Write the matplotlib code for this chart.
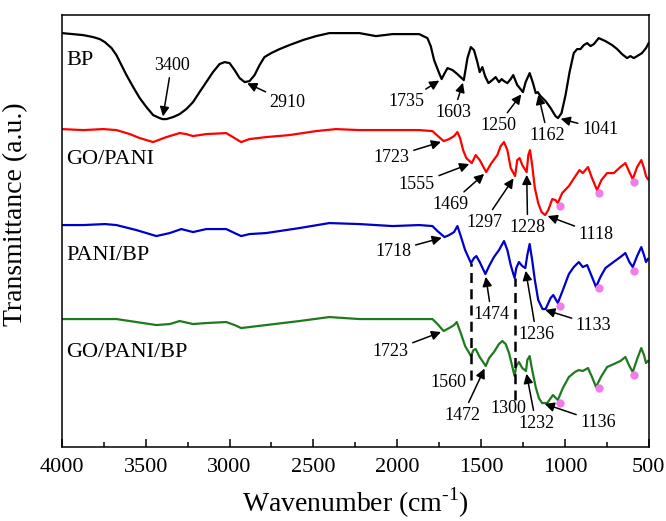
import numpy as np
import matplotlib
matplotlib.use("Agg")
import matplotlib.pyplot as plt
from matplotlib.ticker import MultipleLocator

plt.rcParams["font.family"] = "Liberation Serif"
plt.rcParams["mathtext.fontset"] = "custom"
plt.rcParams["mathtext.rm"] = "Liberation Serif"

# FTIR spectra (wavenumber in cm-1, transmittance in arbitrary units, stacked)
bp_wn = [4000, 3873, 3813, 3774, 3744, 3704, 3675, 3645, 3615, 3575, 3536, 3496,
         3456, 3417, 3400, 3377, 3337, 3298, 3258, 3218, 3179, 3139, 3099, 3060,
         3030, 3000, 2970, 2940, 2910, 2881, 2851, 2821, 2792, 2752, 2702, 2643,
         2563, 2484, 2405, 2226, 2127, 2028, 1869, 1820, 1800, 1780, 1750, 1735,
         1720, 1700, 1670, 1641, 1603, 1581, 1561, 1542, 1522, 1508, 1492, 1476,
         1456, 1433, 1413, 1393, 1377, 1363, 1343, 1323, 1308, 1284, 1250, 1234,
         1210, 1190, 1174, 1162, 1145, 1115, 1085, 1056, 1041, 1020, 996, 972,
         947, 927, 907, 887, 867, 847, 827, 798, 758, 718, 688, 659, 629, 609,
         589, 569, 540, 516, 500]
bp_t = [414, 412, 410, 408, 405, 399, 392, 382, 372, 360, 349, 340,
        332, 329, 328, 328, 330, 333, 338, 345, 355, 365, 375, 383,
        385, 384, 377, 369, 365, 366, 372, 382, 390, 394, 398, 402,
        407, 411, 414, 414, 411, 413, 413, 409, 401, 387, 374, 368,
        373, 379, 377, 373, 367, 389, 400, 397, 385, 375, 380, 371,
        364, 367, 370, 365, 368, 366, 364, 368, 372, 362, 355, 365,
        374, 364, 354, 355, 351, 346, 339, 331, 329, 334, 352, 375,
        394, 398, 398, 402, 404, 401, 403, 409, 406, 402, 398, 393, 389, 391,
        389, 391, 394, 399, 404]

gopani_wn = [4000, 3873, 3754, 3675, 3595, 3536, 3456, 3377, 3298, 3258, 3218, 3139,
             3020, 2970, 2931, 2881, 2782, 2643, 2484, 2365, 2226, 2028, 1869, 1790,
             1764, 1723, 1690, 1661, 1641, 1625, 1607, 1588, 1555, 1532, 1508, 1469,
             1442, 1403, 1383, 1363, 1343, 1323, 1297, 1284, 1270, 1254, 1228, 1218,
             1208, 1195, 1179, 1159, 1139, 1118, 1099, 1075, 1056, 1042, 1016, 976,
             937, 913, 893, 862, 838, 808, 782, 748, 708, 669, 639, 615,
             595, 569, 544, 528, 516, 505]
gopani_t = [318, 317, 318, 317, 313, 309, 305, 310, 314, 313, 311, 313,
            314, 309, 305, 308, 310, 312, 316, 318, 317, 317, 317, 316,
            312, 306, 308, 311, 315, 309, 297, 289, 284, 292, 287, 275,
            283, 292, 301, 305, 297, 279, 271, 287, 289, 282, 275, 292,
            297, 282, 259, 244, 235, 232, 237, 248, 247, 244, 254, 261,
            271, 277, 274, 280, 269, 257, 267, 274, 274, 280, 284, 275,
            268, 280, 287, 279, 271, 268]

panibp_wn = [4000, 3873, 3744, 3675, 3556, 3437, 3357, 3288, 3218, 3139, 3020, 2970,
             2931, 2881, 2782, 2583, 2405, 2226, 2028, 1869, 1790, 1760, 1718, 1690,
             1661, 1641, 1621, 1595, 1560, 1542, 1528, 1508, 1474, 1452, 1423, 1393,
             1363, 1343, 1323, 1300, 1290, 1274, 1254, 1236, 1224, 1210, 1195, 1179,
             1159, 1133, 1115, 1085, 1069, 1042, 1012, 976, 947, 917, 893, 867,
             838, 814, 788, 758, 718, 669, 639, 615, 595, 569, 544, 528,
             516, 505]
panibp_t = [222, 222, 223, 222, 217, 211, 214, 218, 215, 218, 218, 214,
            211, 213, 214, 219, 224, 223, 221, 222, 221, 216, 210, 212,
            215, 221, 211, 197, 184, 189, 191, 185, 173, 181, 190, 197,
            206, 197, 182, 169, 179, 185, 181, 179, 192, 203, 187, 167,
            147, 138, 138, 149, 152, 144, 157, 173, 180, 185, 180, 182,
            170, 160, 170, 179, 184, 190, 194, 185, 180, 191, 200, 192,
            185, 188]

gopanibp_wn = [4000, 3873, 3675, 3556, 3437, 3357, 3298, 3218, 3139, 3020, 2970, 2931,
               2881, 2782, 2583, 2405, 2226, 2028, 1869, 1790, 1760, 1723, 1690, 1661,
               1645, 1621, 1595, 1560, 1545, 1532, 1508, 1472, 1452, 1423, 1393, 1373,
               1353, 1333, 1300, 1290, 1274, 1254, 1232, 1224, 1210, 1195, 1174, 1155,
               1136, 1105, 1071, 1042, 1012, 976, 940, 917, 893, 862, 838, 814,
               785, 748, 708, 669, 639, 615, 595, 569, 544, 528, 516, 505]
gopanibp_t = [128, 128, 128, 125, 122, 123, 126, 123, 124, 125, 122, 119,
              120, 122, 126, 130, 128, 128, 128, 128, 123, 116, 119, 122,
              125, 114, 101, 91, 97, 98, 90, 81, 89, 95, 103, 106,
              103, 94, 71, 81, 85, 79, 76, 87, 91, 77, 60, 49,
              44, 44, 52, 47, 59, 70, 75, 77, 76, 79, 70, 60,
              70, 80, 83, 86, 90, 81, 75, 88, 99, 92, 84, 86]

names = ["BP", "GO/PANI", "PANI/BP", "GO/PANI/BP"]
colors = ["black", "#ff0000", "#0000cc", "#1f7a1f"]
label_heights = [387, 288, 192, 95]

# labelled bands per spectrum, with text offsets (pixels) from the arrow tip
peaks = [
    [(3400, (9, 54)), (2910, (43, -20)), (1735, (-35, -22)), (1603, (-10, -32)),
     (1250, (-25, -33)), (1162, (10, -43)), (1041, (42, -11))],
    [(1723, (-52, -16)), (1555, (-55, -21)), (1469, (-36, -32)), (1297, (-31, -46)),
     (1228, (1, -55)), (1118, (51, -19))],
    [(1718, (-51, -14)), (1474, (6, -40)), (1236, (11, -66)), (1133, (51, -16))],
    [(1723, (-53, -20)), (1472, (-23, -49)), (1232, (10, -52)), (1136, (56, -19))],
]
marked_bands = [1030, 795, 585]
shared_bands = [1560, 1300]

spectra = [(bp_wn, bp_t), (gopani_wn, gopani_t), (panibp_wn, panibp_t),
           (gopanibp_wn, gopanibp_t)]

fig = plt.figure(figsize=(6.66, 5.21), dpi=100)
ax = fig.add_axes([0.093, 0.142, 0.881, 0.829])

for (wn, t), c in zip(spectra, colors):
    ax.plot(wn, t, color=c, lw=1.6)

for name, h in zip(names, label_heights):
    ax.text(3975, h, name, fontsize=16, ha="left", va="center")


def level(i, w):
    wn, t = spectra[i]
    return np.interp(w, wn[::-1], t[::-1])


for i, plist in enumerate(peaks):
    for w, (dx, dy) in plist:
        ax.annotate(str(w), xy=(w, level(i, w)), xytext=(dx, dy),
                    textcoords="offset pixels", ha="center", va="center",
                    fontsize=13,
                    arrowprops=dict(arrowstyle="-|>", color="black", lw=1.1,
                                    mutation_scale=14, shrinkA=1, shrinkB=2))

# pink markers under the low-wavenumber bands of the PANI-containing films
for i in (1, 2, 3):
    ys = [level(i, w) - 8 for w in marked_bands]
    ax.plot(marked_bands, ys, "o", color="#f07ee8", ms=6, mec="none")

# dashed guides linking shared bands of PANI/BP and GO/PANI/BP
text_offsets = [(-23, -2), (-6, -8)]
for w, off in zip(shared_bands, text_offsets):
    top = level(2, w)
    bottom = level(3, w) - 24
    ax.plot([w, w], [bottom, top], color="black", lw=1.8, ls=(0, (4, 2.5)))
    ax.annotate(str(w), xy=(w, bottom), xytext=off, textcoords="offset pixels",
                ha="center", va="center", fontsize=13)

ax.set_xlim(4000, 500)
ax.set_ylim(0, 432)
ax.xaxis.set_major_locator(MultipleLocator(500))
ax.xaxis.set_minor_locator(MultipleLocator(250))
ax.tick_params(axis="x", which="major", direction="in", length=6, width=1.1,
               labelsize=16, pad=8)
ax.tick_params(axis="x", which="minor", direction="in", length=3.5, width=1.1)
ax.set_yticks([])
for s in ax.spines.values():
    s.set_linewidth(1.1)

ax.set_xlabel("Wavenumber (cm$^{\\mathregular{\u2010}1}$)", fontsize=20, labelpad=6)
ax.set_ylabel("Transmittance (a.u.)", fontsize=20)
ax.yaxis.set_label_coords(-0.058, 0.54)

fig.savefig("out.png", dpi=100)
